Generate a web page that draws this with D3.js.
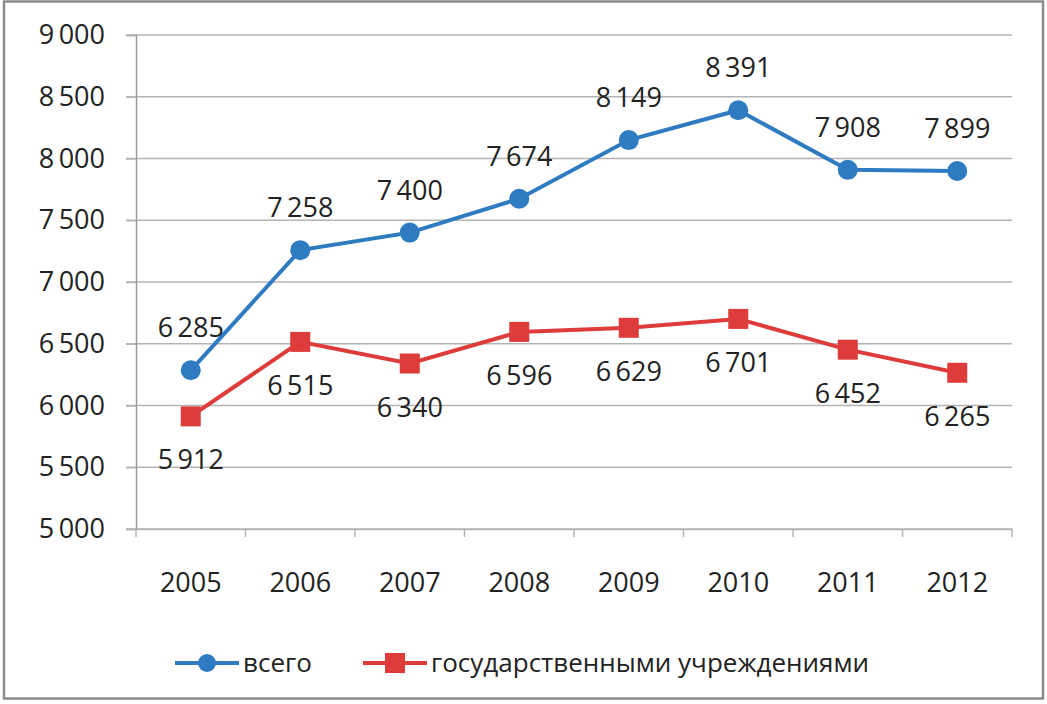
<!DOCTYPE html>
<html><head><meta charset="utf-8">
<script src="https://cdn.jsdelivr.net/npm/d3@7"></script>
<style>
html,body{margin:0;padding:0;background:#fff;}
text{font-family:"Open Sans",sans-serif;fill:#222;}
</style></head>
<body>
<svg id="chart" width="1047" height="704"></svg>
<script>
const years = ["2005","2006","2007","2008","2009","2010","2011","2012"];
const totalValues = [6285,7258,7400,7674,8149,8391,7908,7899];
const stateValues = [5912,6515,6340,6596,6629,6701,6452,6265];
const yTicks = [5000,5500,6000,6500,7000,7500,8000,8500,9000];
const seriesNames = ["всего","государственными учреждениями"];

const svg = d3.select("#chart");
const W = 1047, H = 704;
const m = {left:136, right:35, top:35, bottom:175};
const blue = "#2f7bc2", red = "#dd3c3a";
const fs = 27;

svg.append("rect").attr("x",4).attr("y",1.5).attr("width",1039).attr("height",697)
  .attr("fill","#fff").attr("stroke","#8c8c8c").attr("stroke-width",2.5);

const x = d3.scaleBand().domain(years).range([m.left, W-m.right]);
const y = d3.scaleLinear().domain([5000,9000]).range([H-m.bottom, m.top]);

const loc = d3.formatLocale({decimal:",", thousands:"\u2009", grouping:[3], currency:["",""]});
const fmt = loc.format(",d");

// gridlines
svg.append("g").selectAll("line").data(yTicks).join("line")
  .attr("x1",m.left-10).attr("x2",W-m.right)
  .attr("y1",d=>y(d)).attr("y2",d=>y(d))
  .attr("stroke","#b4b4b4").attr("stroke-width",1.5);

// y axis
const ya = svg.append("g").attr("transform",`translate(${m.left},0)`)
  .call(d3.axisLeft(y).tickValues(yTicks).tickFormat(fmt).tickSize(10).tickPadding(21));
ya.select(".domain").attr("stroke","#9a9a9a").attr("stroke-width",1.5);
ya.selectAll(".tick line").attr("stroke","#b4b4b4").attr("stroke-width",1.5);
ya.selectAll("text").style("font-size",fs+"px").style("font-family","Open Sans").attr("fill","#222");

// x axis
const xa = svg.append("g").attr("transform",`translate(0,${H-m.bottom})`)
  .call(d3.axisBottom(x).tickSize(0).tickPadding(44));
xa.select(".domain").attr("stroke","#b4b4b4").attr("stroke-width",1.5);
xa.selectAll("text").style("font-size",fs+"px").style("font-family","Open Sans").attr("fill","#222");
// boundary ticks
const bounds = years.map(d=>x(d)).concat([x(years[years.length-1])+x.bandwidth()]);
xa.append("g").selectAll("line").data(bounds).join("line")
  .attr("x1",d=>d).attr("x2",d=>d).attr("y1",0).attr("y2",8)
  .attr("stroke","#b4b4b4").attr("stroke-width",1.5);

const cx = d => x(d)+x.bandwidth()/2;
const line = d3.line().x((d,i)=>cx(years[i])).y(d=>y(d));

// red series
svg.append("path").datum(stateValues).attr("d",line).attr("fill","none")
  .attr("stroke",red).attr("stroke-width",4);
svg.append("g").selectAll("rect").data(stateValues).join("rect")
  .attr("x",(d,i)=>cx(years[i])-10).attr("y",d=>y(d)-10)
  .attr("width",20).attr("height",20).attr("fill",red);
// blue series
svg.append("path").datum(totalValues).attr("d",line).attr("fill","none")
  .attr("stroke",blue).attr("stroke-width",4);
svg.append("g").selectAll("circle").data(totalValues).join("circle")
  .attr("cx",(d,i)=>cx(years[i])).attr("cy",d=>y(d)).attr("r",10).attr("fill",blue);

// labels
svg.append("g").selectAll("text").data(totalValues).join("text")
  .attr("x",(d,i)=>cx(years[i])).attr("y",d=>y(d)-33)
  .attr("text-anchor","middle").style("font-size",fs+"px").text(d=>fmt(d));
svg.append("g").selectAll("text").data(stateValues).join("text")
  .attr("x",(d,i)=>cx(years[i])).attr("y",d=>y(d)+53)
  .attr("text-anchor","middle").style("font-size",fs+"px").text(d=>fmt(d));

// legend
const lg = svg.append("g");
const ly = 663;
const items = [{name:seriesNames[0],c:blue,shape:"circle",x0:175},{name:seriesNames[1],c:red,shape:"rect",x0:363}];
items.forEach(it=>{
  lg.append("line").attr("x1",it.x0).attr("x2",it.x0+64).attr("y1",ly).attr("y2",ly)
    .attr("stroke",it.c).attr("stroke-width",4);
  if(it.shape==="circle") lg.append("circle").attr("cx",it.x0+32).attr("cy",ly).attr("r",9).attr("fill",it.c);
  else lg.append("rect").attr("x",it.x0+22).attr("y",ly-10).attr("width",20).attr("height",20).attr("fill",it.c);
  lg.append("text").attr("x",it.x0+68).attr("y",ly+9).style("font-size","26px").text(it.name);
});
</script>
</body></html>
